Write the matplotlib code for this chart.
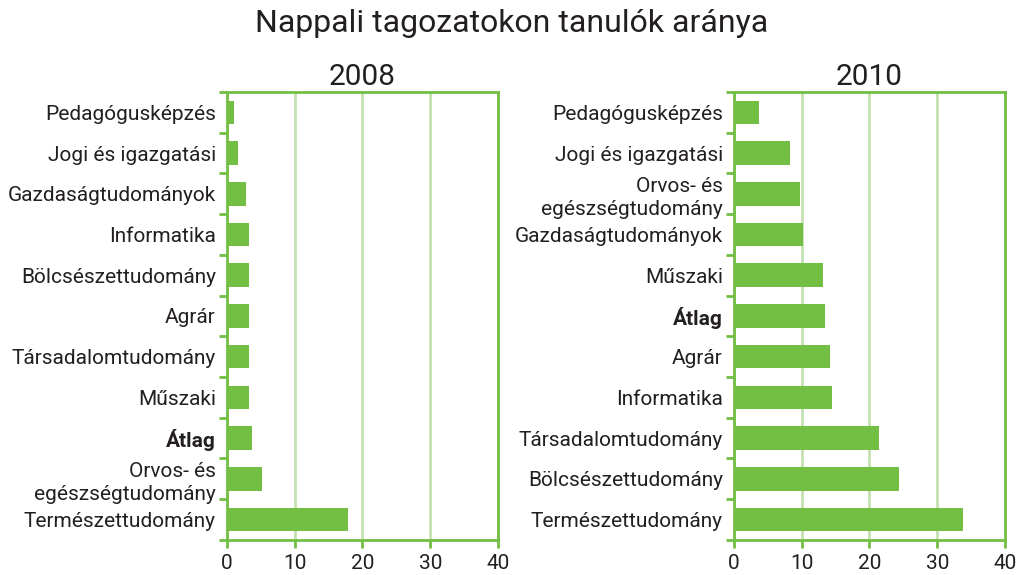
import matplotlib.pyplot as plt
import numpy as np

plt.rcParams['font.family'] = ['Roboto', 'DejaVu Sans']

# Adatok (felülről lefelé)
kat_2008 = ['Pedagógusképzés', 'Jogi és igazgatási', 'Gazdaságtudományok',
            'Informatika', 'Bölcsészettudomány', 'Agrár', 'Társadalomtudomány',
            'Műszaki', 'Átlag', 'Orvos- és\negészségtudomány', 'Természettudomány']
ert_2008 = [1.0, 1.6, 2.8, 3.2, 3.2, 3.2, 3.2, 3.2, 3.7, 5.2, 17.9]

kat_2010 = ['Pedagógusképzés', 'Jogi és igazgatási', 'Orvos- és\negészségtudomány',
            'Gazdaságtudományok', 'Műszaki', 'Átlag', 'Agrár', 'Informatika',
            'Társadalomtudomány', 'Bölcsészettudomány', 'Természettudomány']
ert_2010 = [3.7, 8.2, 9.8, 10.2, 13.2, 13.5, 14.2, 14.5, 21.4, 24.3, 33.8]

x_ticks = [0, 10, 20, 30, 40]

zold = '#72bf44'
halvany = '#c5e0b0'
szoveg = '#231f20'

fig = plt.figure(figsize=(10.24, 5.75), dpi=100)
fig.text(0.5, 0.96, 'Nappali tagozatokon tanulók aránya', ha='center', va='center',
         fontsize=23, color=szoveg)


def rajzol(ax, kat, ert, cim):
    y = np.arange(len(kat))
    ax.barh(y, ert, height=0.58, color=zold, zorder=3)
    ax.set_xlim(0, 40)
    ax.set_ylim(len(kat) - 0.5, -0.5)
    ax.set_xticks(x_ticks)
    ax.set_yticks(y)
    ax.set_yticklabels(kat, fontsize=15, color=szoveg, linespacing=1.25)
    for lbl in ax.get_yticklabels():
        if lbl.get_text() == 'Átlag':
            lbl.set_fontweight('bold')
    ax.set_yticks(np.arange(len(kat) + 1) - 0.5, minor=True)
    ax.tick_params(axis='y', which='major', length=0, pad=8)
    ax.tick_params(axis='y', which='minor', length=6, width=2, color=zold)
    ax.tick_params(axis='x', length=6, width=2, color=zold, labelsize=15,
                   labelcolor=szoveg, pad=4)
    ax.grid(axis='x', color=halvany, linewidth=2, zorder=0)
    for s in ax.spines.values():
        s.set_color(zold)
        s.set_linewidth(2)
    ax.set_title(cim, fontsize=21.5, color=szoveg, pad=5)


ax1 = fig.add_axes([0.2217, 0.061, 0.2646, 0.779])
rajzol(ax1, kat_2008, ert_2008, '2008')

ax2 = fig.add_axes([0.7168, 0.061, 0.2646, 0.779])
rajzol(ax2, kat_2010, ert_2010, '2010')

fig.savefig('out.png', dpi=100)
